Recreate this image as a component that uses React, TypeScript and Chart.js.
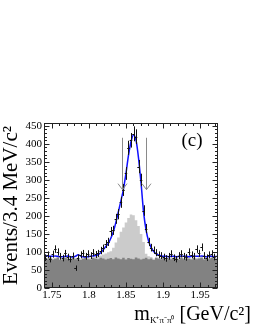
import React, { useEffect, useRef } from "react";
import { Chart, registerables } from "chart.js";

Chart.register(...registerables);

// ---- data ----
const BIN_LOW = 1.7395;
const BIN_WIDTH = 0.0034;
const X_MIN = 1.7395;
const X_MAX = 1.9741;
const Y_MIN = 0;
const Y_MAX = 458;
const X_TICKS = [1.75, 1.8, 1.85, 1.9, 1.95];
const X_TICK_LABELS = ["1.75", "1.8", "1.85", "1.9", "1.95"];
const Y_TICKS = [0, 50, 100, 150, 200, 250, 300, 350, 400, 450];
const Y_TICK_LABELS = ["0", "50", "100", "150", "200", "250", "300", "350", "400", "450"];

const dataCounts = [
  84, 92, 80, 94, 108, 100, 88, 83, 96, 86,
  80, 89, 55, 84, 92, 96, 88, 95, 90, 98,
  93, 96, 104, 110, 122, 128, 157, 160, 192, 205,
  238, 272, 318, 389, 410, 428, 420, 337, 300, 215,
  165, 128, 112, 105, 98, 92, 90, 86, 82, 88,
  95, 84, 80, 90, 95, 88, 85, 100, 92, 88,
  108, 96, 113, 90, 84, 92, 95, 86, 88,
];

const fitCurve = [
  90, 89, 88, 88, 89, 88, 87, 87, 88, 89,
  87, 86, 88, 92, 89, 87, 86, 87, 88, 89,
  90, 93, 98, 106, 115, 124, 138, 156, 182, 212,
  242, 274, 318, 368, 406, 425, 410, 360, 290, 210,
  160, 130, 112, 101, 95, 91, 89, 88, 88, 87,
  88, 88, 87, 88, 89, 88, 88, 87, 88, 89,
  88, 88, 89, 88, 87, 88, 88, 87, 88,
];

const bkgDark = [
  82, 80, 84, 79, 81, 85, 78, 80, 83, 81,
  79, 84, 80, 82, 78, 81, 85, 80, 79, 83,
  81, 80, 84, 82, 79, 81, 83, 80, 85, 82,
  80, 84, 79, 83, 81, 80, 85, 82, 79, 81,
  84, 80, 82, 78, 83, 81, 80, 84, 79, 82,
  80, 83, 81, 79, 84, 80, 82, 81, 79, 83,
  80, 82, 84, 79, 81, 80, 83, 82, 80,
];

const bkgLight = [
  85, 83, 87, 82, 84, 88, 81, 83, 86, 84,
  82, 87, 83, 85, 81, 84, 88, 83, 82, 86,
  86, 88, 90, 93, 96, 99, 102, 112, 126, 140,
  156, 168, 182, 194, 204, 202, 188, 172, 150, 128,
  95, 88, 86, 81, 86, 84, 83, 87, 82, 85,
  83, 86, 84, 82, 87, 83, 85, 84, 82, 86,
  83, 85, 87, 82, 84, 83, 86, 85, 83,
];

const ARROW_X = [1.845, 1.877];
const ARROW_TOP = 417;
const ARROW_TIP = 273;

const SERIF = "'Liberation Serif', 'Times New Roman', serif";

const binCenter = (i: number) => BIN_LOW + (i + 0.5) * BIN_WIDTH;
const histPoints = (vals: number[]) => {
  const pts = vals.map((v, i) => ({ x: BIN_LOW + i * BIN_WIDTH, y: v }));
  pts.push({ x: BIN_LOW + vals.length * BIN_WIDTH, y: vals[vals.length - 1] });
  return pts;
};

const decorPlugin = {
  id: "decor",
  afterDatasetsDraw(chart: any) {
    const { ctx, chartArea: a, scales } = chart;
    const xs = scales.x;
    const ys = scales.y;
    ctx.save();
    ctx.beginPath();
    ctx.rect(a.left, a.top, a.right - a.left, a.bottom - a.top);
    ctx.clip();
    // error bars
    ctx.strokeStyle = "#111";
    ctx.lineWidth = 1;
    dataCounts.forEach((n, i) => {
      const c = binCenter(i);
      const px = Math.round(xs.getPixelForValue(c)) + 0.5;
      const py = ys.getPixelForValue(n);
      const err = Math.sqrt(n);
      const y1 = ys.getPixelForValue(n + err);
      const y2 = ys.getPixelForValue(n - err);
      const x1 = xs.getPixelForValue(c - BIN_WIDTH / 2);
      const x2 = xs.getPixelForValue(c + BIN_WIDTH / 2);
      ctx.beginPath();
      ctx.moveTo(px, y1);
      ctx.lineTo(px, y2);
      const pyr = Math.round(py) + 0.5;
      ctx.moveTo(x1, pyr);
      ctx.lineTo(x2, pyr);
      ctx.stroke();
    });
    // arrows
    ctx.strokeStyle = "#8a8a8a";
    ctx.lineWidth = 1;
    ARROW_X.forEach((v) => {
      const px = Math.round(xs.getPixelForValue(v)) + 0.5;
      const yt = ys.getPixelForValue(ARROW_TOP);
      const yb = ys.getPixelForValue(ARROW_TIP);
      ctx.beginPath();
      ctx.moveTo(px, yt);
      ctx.lineTo(px, yb);
      ctx.moveTo(px - 4.5, yb - 6);
      ctx.lineTo(px, yb);
      ctx.lineTo(px + 4.5, yb - 6);
      ctx.stroke();
    });
    ctx.restore();

    // frame and ticks
    ctx.save();
    ctx.strokeStyle = "#222";
    ctx.lineWidth = 1;
    const L = Math.round(a.left) + 0.5;
    const R = Math.round(a.right) - 0.5;
    const T = Math.round(a.top) + 0.5;
    const B = Math.round(a.bottom) - 0.5;
    ctx.strokeRect(L, T, R - L, B - T);
    ctx.beginPath();
    for (let k = 174; k <= 197; k++) {
      const v = k / 100;
      if (v < X_MIN || v > X_MAX) continue;
      const major = k % 5 === 0;
      const len = major ? 5 : 2.5;
      const px = Math.round(xs.getPixelForValue(v)) + 0.5;
      ctx.moveTo(px, B);
      ctx.lineTo(px, B - len);
      ctx.moveTo(px, T);
      ctx.lineTo(px, T + len);
    }
    for (let v = 0; v <= Y_MAX; v += 10) {
      const major = v % 50 === 0;
      const len = major ? 5 : 2.5;
      const py = Math.round(ys.getPixelForValue(v)) + 0.5;
      ctx.moveTo(L, py);
      ctx.lineTo(L + len, py);
      ctx.moveTo(R, py);
      ctx.lineTo(R - len, py);
    }
    ctx.stroke();

    // (c) label
    ctx.fillStyle = "#000";
    ctx.font = `19px ${SERIF}`;
    ctx.textAlign = "center";
    ctx.textBaseline = "middle";
    ctx.fillText("(c)", 192, 141);

    // x title with subscript
    const big = `20px ${SERIF}`;
    const small = `9px ${SERIF}`;
    const base = 320;
    ctx.textBaseline = "alphabetic";
    ctx.textAlign = "left";
    ctx.font = big;
    const wm = ctx.measureText("m").width;
    const wr = ctx.measureText(" [GeV/c²]").width;
    ctx.font = small;
    const ws = ctx.measureText("K⁺π⁻π⁰").width;
    const right = 251;
    const x0 = right - wr - ws - wm;
    ctx.font = big;
    ctx.fillText("m", x0, base);
    ctx.font = small;
    ctx.fillText("K⁺π⁻π⁰", x0 + wm, base + 3);
    ctx.font = big;
    ctx.fillText(" [GeV/c²]", x0 + wm + ws, base);
    ctx.restore();
  },
};

export default function App() {
  const ref = useRef<HTMLCanvasElement | null>(null);
  useEffect(() => {
    if (!ref.current) return;
    const chart = new Chart(ref.current, {
      type: "line",
      data: {
        datasets: [
          {
            label: "fit",
            data: fitCurve.map((v, i) => ({ x: binCenter(i), y: v })),
            borderColor: "#1010ff",
            borderWidth: 1.5,
            pointRadius: 0,
            fill: false,
            cubicInterpolationMode: "monotone",
            order: 1,
          },
          {
            label: "bkg dark",
            data: histPoints(bkgDark),
            borderColor: "rgba(0,0,0,0)",
            borderWidth: 0,
            backgroundColor: "#828282",
            pointRadius: 0,
            stepped: "before",
            fill: "origin",
            order: 2,
          },
          {
            label: "bkg light",
            data: histPoints(bkgLight),
            borderColor: "rgba(0,0,0,0)",
            borderWidth: 0,
            backgroundColor: "#cbcbcb",
            pointRadius: 0,
            stepped: "before",
            fill: "origin",
            order: 3,
          },
        ],
      },
      options: {
        animation: false,
        responsive: false,
        devicePixelRatio: 1,
        layout: { padding: { top: 123, right: 37, left: 0, bottom: 0 } },
        plugins: { legend: { display: false }, tooltip: { enabled: false } },
        scales: {
          x: {
            type: "linear",
            min: X_MIN,
            max: X_MAX,
            grid: { display: false, drawTicks: false },
            border: { display: false },
            afterBuildTicks: (s: any) => {
              s.ticks = X_TICKS.map((v) => ({ value: v }));
            },
            afterFit: (s: any) => {
              s.height = 42;
            },
            ticks: {
              autoSkip: false,
              maxRotation: 0,
              padding: 1,
              color: "#000",
              font: { family: SERIF, size: 11 },
              callback: (v: any) => {
                const k = X_TICKS.findIndex((t) => Math.abs(t - v) < 1e-6);
                return k >= 0 ? X_TICK_LABELS[k] : "";
              },
            },
          },
          y: {
            min: Y_MIN,
            max: Y_MAX,
            grid: { display: false, drawTicks: false },
            border: { display: false },
            afterBuildTicks: (s: any) => {
              s.ticks = Y_TICKS.map((v) => ({ value: v }));
            },
            afterFit: (s: any) => {
              s.width = 44;
            },
            title: {
              display: true,
              text: "Events/3.4 MeV/c²",
              color: "#000",
              font: { family: SERIF, size: 21, lineHeight: 1 },
              padding: { top: 1, bottom: 0 },
            },
            ticks: {
              autoSkip: false,
              padding: 2,
              color: "#000",
              font: { family: SERIF, size: 11 },
              callback: (v: any) => {
                const k = Y_TICKS.indexOf(v);
                return k >= 0 ? Y_TICK_LABELS[k] : "";
              },
            },
          },
        },
      },
      plugins: [decorPlugin],
    } as any);
    return () => chart.destroy();
  }, []);
  return (
    <canvas
      ref={ref}
      width={255}
      height={330}
      style={{ position: "fixed", left: 0, top: 0, width: 255, height: 330 }}
    />
  );
}
